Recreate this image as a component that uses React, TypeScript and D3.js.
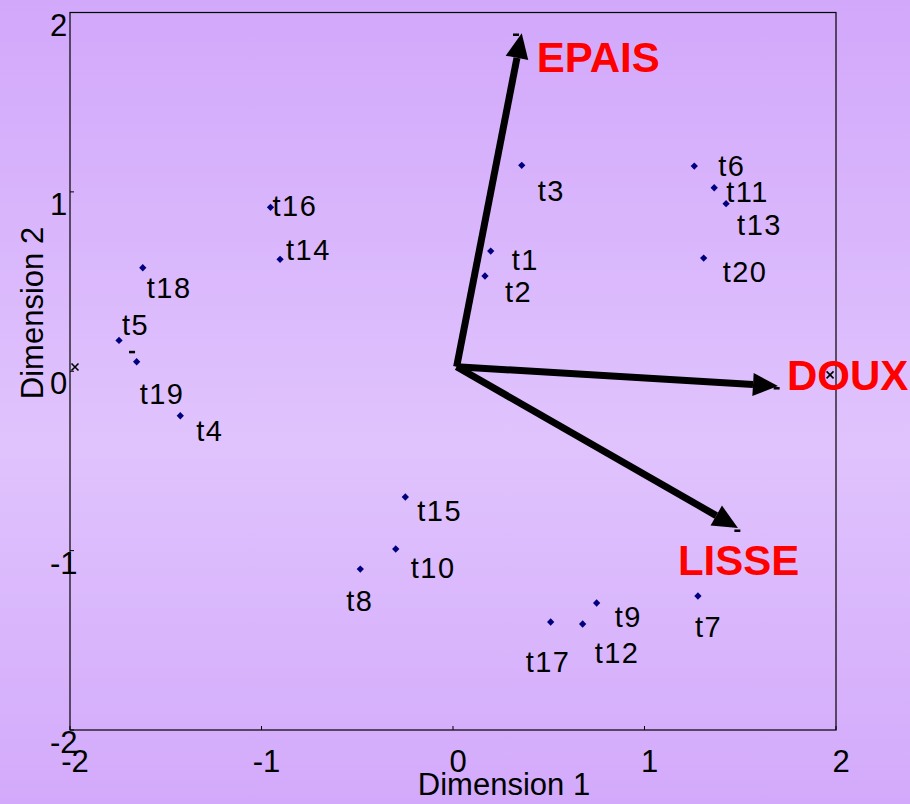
import * as d3 from "d3";
import { useMemo } from "react";

const W = 910;
const H = 804;
// plot box in px (MATLAB-style axes)
const BOX = { left: 70, right: 836, top: 12.5, bottom: 730 };

// individuals (t1..t20) on the first two dimensions
const POINT_NAMES = [
  "t1", "t2", "t3", "t4", "t5", "t6", "t7", "t8", "t9", "t10",
  "t11", "t12", "t13", "t14", "t15", "t16", "t17", "t18", "t19", "t20",
];
const DIM1 = [
  0.197, 0.167, 0.359, -1.424, -1.744, 1.26, 1.279, -0.484, 0.75, -0.299,
  1.364, 0.677, 1.426, -0.903, -0.249, -0.953, 0.51, -1.62, -1.652, 1.309,
];
const DIM2 = [
  0.67, 0.531, 1.148, -0.248, 0.172, 1.144, -1.253, -1.103, -1.292, -0.991,
  1.023, -1.409, 0.934, 0.624, -0.701, 0.914, -1.398, 0.577, 0.053, 0.631,
];

// variables drawn as arrows from the origin
const VAR_NAMES = ["EPAIS", "DOUX", "LISSE"];
const VAR_D1 = [0.359, 1.697, 1.488];
const VAR_D2 = [1.884, -0.082, -0.874];
const ARROW_ORIGIN = [0.019, 0.025];

// stray markers left on the plot
const DASH_D1 = [0.329, 1.69, 1.485, -1.676];
const DASH_D2 = [1.876, -0.095, -0.889, 0.107];
const CROSS_D1 = [-1.974, 1.969];
const CROSS_D2 = [0.024, -0.02];

const TICKS = [-2, -1, 0, 1, 2];

// label placement, px from the marker (text start, baseline)
const LABEL_NUDGE: Record<string, [number, number]> = {
  t1: [21, 19], t2: [20, 26], t3: [16, 36], t4: [16, 25], t5: [3, -5],
  t6: [24, 10], t7: [-3, 41], t8: [-14, 42], t9: [18, 24], t10: [15, 29],
  t11: [12, 14], t12: [12, 39], t13: [11, 31], t14: [6, 1], t15: [12, 24],
  t16: [2, 9], t17: [-25, 50], t18: [4, 30], t19: [3, 42], t20: [19, 24],
};
const VAR_NUDGE: Record<string, [number, number]> = {
  EPAIS: [15, 39],
  DOUX: [9, 4],
  LISSE: [-60, 47],
};

const FONT = "'Liberation Sans', Arial, Helvetica, sans-serif";

export default function App() {
  const x = useMemo(
    () => d3.scaleLinear().domain([-2, 2]).range([BOX.left, BOX.right]),
    [],
  );
  const y = useMemo(
    () => d3.scaleLinear().domain([-2, 2]).range([BOX.bottom, BOX.top]),
    [],
  );

  const points = POINT_NAMES.map((name, i) => ({
    name,
    px: x(DIM1[i]),
    py: y(DIM2[i]),
  }));

  const ox = x(ARROW_ORIGIN[0]);
  const oy = y(ARROW_ORIGIN[1]);
  const headLen = 25;
  const headHalf = 11.5;
  const arrows = VAR_NAMES.map((name, i) => {
    const tx = x(VAR_D1[i]);
    const ty = y(VAR_D2[i]);
    const len = Math.hypot(tx - ox, ty - oy);
    const ux = (tx - ox) / len;
    const uy = (ty - oy) / len;
    const bx = tx - ux * headLen;
    const by = ty - uy * headLen;
    const head = [
      [tx, ty],
      [bx - uy * headHalf, by + ux * headHalf],
      [bx + uy * headHalf, by - ux * headHalf],
    ];
    return { name, tx, ty, bx, by, head: head.map((p) => p.join(",")).join(" ") };
  });

  const diamond = d3.symbol(d3.symbolDiamond2, 34)() ?? "";

  return (
    <svg
      width={W}
      height={H}
      viewBox={`0 0 ${W} ${H}`}
      style={{ position: "absolute", left: 0, top: 0 }}
      fontFamily={FONT}
    >
      <defs>
        <linearGradient id="bg" x1="0" y1="0" x2="0" y2="1">
          <stop offset="0%" stopColor="#d2a8fb" />
          <stop offset="55%" stopColor="#e0c3fd" />
          <stop offset="100%" stopColor="#d3aafb" />
        </linearGradient>
      </defs>
      <rect x={0} y={0} width={W} height={H} fill="url(#bg)" />

      {/* axes box */}
      <rect
        x={BOX.left}
        y={BOX.top}
        width={BOX.right - BOX.left}
        height={BOX.bottom - BOX.top}
        fill="none"
        stroke="#000"
        strokeWidth={1.2}
      />

      {/* ticks + tick labels */}
      {TICKS.map((t) => (
        <g key={`x${t}`}>
          <line x1={x(t)} x2={x(t)} y1={BOX.bottom} y2={BOX.bottom - 4} stroke="#000" />
          <text x={x(t) + 5} y={772} textAnchor="middle" fontSize={31} fill="#000">
            {t}
          </text>
        </g>
      ))}
      {TICKS.map((t) => (
        <g key={`y${t}`}>
          <line x1={BOX.left} x2={BOX.left + 4} y1={y(t)} y2={y(t)} stroke="#000" />
          <text x={50} y={y(t) + 23} fontSize={31} fill="#000">
            {t}
          </text>
        </g>
      ))}

      {/* axis titles */}
      <text x={504} y={795} textAnchor="middle" fontSize={31} fill="#000">
        Dimension 1
      </text>
      <text
        transform="translate(43,313) rotate(-90)"
        textAnchor="middle"
        fontSize={31}
        fill="#000"
      >
        Dimension 2
      </text>

      {/* stray markers */}
      {DASH_D1.map((d, i) => (
        <rect
          key={`dash${i}`}
          x={x(d) - 3}
          y={y(DASH_D2[i]) - 1.25}
          width={6}
          height={2.5}
          fill="#000"
        />
      ))}
      {CROSS_D1.map((d, i) => {
        const cx = x(d);
        const cy = y(CROSS_D2[i]);
        return (
          <path
            key={`cross${i}`}
            d={`M${cx - 3.5},${cy - 3.5}L${cx + 3.5},${cy + 3.5}M${cx - 3.5},${cy + 3.5}L${cx + 3.5},${cy - 3.5}`}
            stroke="#000"
            strokeWidth={1.6}
          />
        );
      })}

      {/* variable arrows */}
      {arrows.map((a) => (
        <g key={a.name}>
          <line x1={ox} y1={oy} x2={a.bx} y2={a.by} stroke="#000" strokeWidth={7} />
          <polygon points={a.head} fill="#000" />
          <text
            x={a.tx + VAR_NUDGE[a.name][0]}
            y={a.ty + VAR_NUDGE[a.name][1]}
            fontSize={42}
            fontWeight={700}
            fill="#ff0000"
          >
            {a.name}
          </text>
        </g>
      ))}

      {/* individuals */}
      {points.map((p) => (
        <g key={p.name}>
          <path d={diamond} transform={`translate(${p.px},${p.py})`} fill="#00007f" />
          <text
            x={p.px + LABEL_NUDGE[p.name][0]}
            y={p.py + LABEL_NUDGE[p.name][1]}
            fontSize={29}
            letterSpacing={1.5}
            fill="#000"
          >
            {p.name}
          </text>
        </g>
      ))}
    </svg>
  );
}
